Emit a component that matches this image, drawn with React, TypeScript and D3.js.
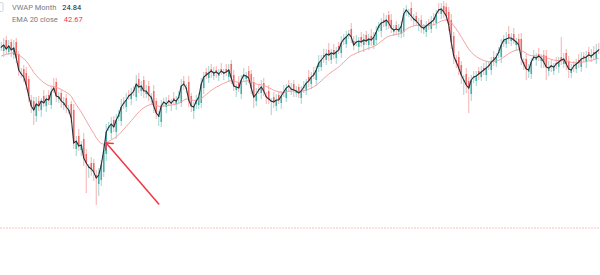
import React from "react";
import * as d3 from "d3";

// Close prices, one per candle
const closes: number[] = [
  18.3, 18.5, 18.1, 18.4, 18.0, 18.2, 17.2, 16.0, 15.6, 15.3,
  14.5, 13.4, 12.4, 12.0, 12.6, 12.4, 12.9, 12.7, 13.1, 13.0,
  13.8, 14.2, 13.4, 13.3, 12.9, 12.7, 12.3, 12.0, 11.2, 8.7,
  8.9, 8.4, 8.5, 7.2, 6.7, 6.3, 6.1, 5.8, 5.2, 5.5,
  6.5, 8.0, 9.8, 10.3, 10.6, 10.3, 11.0, 11.5, 12.3, 12.7,
  13.0, 13.4, 13.6, 13.9, 14.6, 14.3, 14.4, 13.9, 13.9, 13.5,
  13.3, 12.4, 11.7, 11.4, 12.4, 12.8, 12.6, 12.9, 12.7, 13.0,
  12.9, 13.3, 14.4, 14.6, 14.2, 13.0, 12.4, 12.3, 12.9, 13.3,
  14.6, 15.3, 15.5, 15.7, 15.9, 15.7, 15.8, 15.6, 15.9, 15.7,
  15.8, 16.0, 15.2, 14.4, 14.3, 14.2, 15.0, 15.5, 15.4, 15.2,
  14.2, 13.3, 13.6, 14.0, 14.3, 13.9, 13.3, 13.1, 12.9, 12.8,
  13.0, 13.0, 13.4, 13.8, 14.2, 14.4, 14.1, 14.0, 13.9, 13.7,
  13.9, 14.3, 14.7, 14.9, 15.3, 15.5, 16.0, 16.7, 17.0, 17.3,
  17.6, 17.5, 17.7, 17.6, 17.8, 18.0, 18.7, 19.1, 19.3, 19.6,
  19.3, 18.5, 18.8, 18.9, 18.8, 19.0, 18.9, 19.1, 19.0, 19.3,
  19.8, 20.4, 20.7, 20.8, 21.0, 20.7, 20.2, 20.0, 20.1, 20.0,
  20.4, 21.6, 22.0, 21.7, 21.4, 21.1, 20.9, 20.6, 20.3, 20.2,
  20.4, 20.6, 20.8, 21.0, 21.6, 22.0, 22.1, 21.8, 21.4, 20.5,
  18.8, 17.4, 16.8, 16.2, 15.5, 15.0, 14.5, 14.2, 15.0, 15.3,
  15.4, 15.6, 15.8, 16.0, 16.2, 16.4, 16.8, 17.0, 17.3, 17.8,
  18.5, 19.0, 19.1, 19.2, 19.2, 19.0, 18.8, 18.5, 17.2, 16.6,
  16.1, 16.0, 16.8, 17.3, 17.2, 17.4, 17.2, 16.8, 16.3, 16.2,
  16.4, 16.3, 16.6, 16.8, 17.0, 17.1, 16.6, 16.1, 16.0, 16.4,
  16.6, 16.8, 17.1, 17.2, 17.3, 17.5, 17.4, 17.6, 17.8, 18.0,
];

// Opening gap vs. the previous close, per candle
const openGap: number[] = [
  0.3, -0.4, 0.5, -0.3, 0.4, -0.5, 0.6, 0.4, -0.3, 0.5,
  0.4, 0.6, -0.4, 0.5, -0.6, 0.3, -0.4, 0.5, -0.3, 0.4,
  -0.5, 0.4, 0.6, -0.3, 0.4, -0.4, 0.5, -0.3, 0.6, 0.8,
  -0.6, 0.5, -0.4, 0.6, 0.4, -0.5, 0.4, 0.6, -0.3, -0.6,
  -0.5, -0.7, -0.4, 0.5, -0.6, 0.4, -0.5, 0.3, -0.6, 0.4,
  -0.4, 0.5, -0.3, 0.4, -0.6, 0.5, -0.4, 0.6, -0.3, 0.5,
  -0.4, 0.6, 0.5, -0.4, -0.6, 0.3, -0.5, 0.4, -0.3, 0.5,
  -0.4, 0.3, -0.6, 0.5, -0.4, 0.6, 0.4, -0.5, 0.3, -0.4,
  -0.6, -0.4, 0.5, -0.3, 0.4, -0.5, 0.3, -0.4, 0.5, -0.3,
  0.4, -0.5, 0.6, 0.3, -0.4, 0.5, -0.6, 0.3, -0.4, 0.5,
  0.4, 0.6, -0.4, 0.5, -0.3, 0.4, -0.5, 0.6, -0.3, 0.4,
  -0.4, 0.5, -0.3, 0.4, -0.6, 0.3, -0.4, 0.5, -0.3, 0.4,
  -0.5, 0.3, -0.4, 0.6, -0.3, 0.4, -0.5, 0.3, -0.4, 0.5,
  -0.3, 0.4, -0.5, 0.3, -0.4, 0.6, -0.3, 0.4, -0.5, 0.3,
  0.5, -0.4, 0.3, -0.5, 0.4, -0.3, 0.5, -0.4, 0.3, -0.5,
  -0.3, 0.4, -0.5, 0.3, -0.4, 0.5, 0.3, -0.4, 0.5, -0.3,
  -0.4, -0.6, 0.4, -0.3, 0.5, -0.4, 0.3, -0.5, 0.4, -0.3,
  -0.4, 0.3, -0.5, 0.4, -0.3, 0.5, -0.4, 0.3, 0.5, 0.4,
  0.5, 0.6, -0.4, 0.5, 0.3, -0.5, 0.6, 0.4, -0.6, 0.3,
  -0.4, 0.5, -0.3, 0.4, -0.5, 0.3, -0.4, 0.5, -0.3, 0.4,
  -0.5, 0.3, -0.4, 0.5, -0.3, 0.4, -0.5, 0.3, 0.6, -0.4,
  0.5, -0.3, -0.4, 0.5, -0.3, 0.4, -0.5, 0.3, 0.6, -0.4,
  0.3, -0.5, 0.4, -0.3, 0.5, -0.4, 0.6, 0.3, -0.4, 0.5,
  -0.3, 0.4, -0.5, 0.3, -0.4, 0.5, -0.3, 0.4, -0.5, 0.3,
];

// Upper wick length above the body, per candle
const wickHigh: number[] = [
  0.5, 0.7, 0.4, 0.6, 0.3, 0.8, 0.4, 0.3, 0.5, 0.4,
  0.6, 0.3, 0.5, 0.4, 0.7, 0.5, 0.3, 0.6, 0.4, 0.5,
  0.6, 1.0, 0.4, 0.5, 0.3, 0.6, 0.4, 0.5, 0.3, 0.6,
  0.5, 0.7, 0.4, 0.6, 0.5, 0.3, 0.6, 0.4, 0.5, 0.7,
  0.5, 0.6, 0.8, 0.5, 0.7, 0.4, 0.6, 0.5, 0.8, 0.6,
  0.7, 0.5, 0.6, 0.4, 0.9, 0.6, 0.5, 0.4, 0.6, 0.5,
  0.4, 0.6, 0.3, 0.5, 0.6, 0.4, 0.7, 0.5, 0.4, 0.6,
  0.5, 0.6, 0.7, 0.5, 0.4, 0.6, 0.3, 0.5, 0.6, 0.4,
  0.6, 0.5, 0.4, 0.7, 0.5, 0.6, 0.4, 0.5, 0.6, 0.4,
  0.5, 0.6, 0.4, 0.5, 0.3, 0.6, 0.5, 0.7, 0.4, 0.5,
  0.4, 0.5, 0.6, 0.4, 0.7, 0.5, 0.4, 0.6, 0.3, 0.5,
  0.6, 0.4, 0.5, 0.7, 0.4, 0.5, 0.6, 0.4, 0.5, 0.3,
  0.5, 0.6, 0.4, 0.7, 0.5, 0.6, 0.4, 0.8, 0.5, 0.6,
  0.5, 0.7, 0.4, 0.6, 0.5, 0.4, 0.7, 0.5, 0.6, 0.4,
  0.6, 0.5, 0.7, 0.4, 0.5, 0.6, 0.4, 0.5, 0.7, 0.5,
  0.6, 0.4, 0.5, 0.7, 0.5, 0.4, 0.6, 0.5, 0.4, 0.6,
  0.5, 0.6, 0.5, 0.4, 0.6, 0.5, 0.4, 0.6, 0.5, 0.4,
  0.5, 0.4, 0.6, 0.5, 0.4, 0.6, 0.6, 0.5, 0.4, 0.5,
  0.6, 0.4, 0.5, 0.6, 0.4, 0.5, 0.6, 0.4, 0.5, 0.6,
  0.5, 0.4, 0.6, 0.5, 0.7, 0.4, 0.5, 0.6, 0.4, 0.5,
  0.6, 0.5, 0.7, 0.8, 0.5, 0.6, 0.4, 0.5, 0.6, 0.4,
  0.5, 0.6, 0.4, 0.7, 0.5, 0.6, 0.4, 0.5, 0.6, 0.7,
  0.5, 0.4, 0.6, 0.5, 2.0, 0.6, 0.4, 0.5, 0.6, 0.4,
  0.5, 0.6, 0.7, 0.4, 0.6, 0.5, 0.7, 0.6, 0.8, 0.6,
];

// Lower wick length below the body, per candle
const wickLow: number[] = [
  0.4, 0.6, 0.5, 0.3, 0.7, 0.4, 0.5, 0.6, 0.4, 0.5,
  0.5, 0.6, 0.7, 1.5, 0.6, 0.5, 0.7, 0.4, 0.6, 0.5,
  0.4, 0.5, 0.6, 0.4, 0.7, 0.5, 0.6, 0.4, 0.5, 0.6,
  0.7, 0.5, 0.6, 0.8, 3.0, 1.0, 0.7, 0.9, 2.7, 1.2,
  0.6, 0.5, 0.7, 0.4, 0.6, 0.5, 0.7, 0.4, 0.5, 0.6,
  0.5, 0.4, 0.6, 0.5, 0.4, 0.6, 0.5, 0.7, 0.4, 0.6,
  0.5, 0.7, 0.6, 0.9, 0.5, 0.4, 0.6, 0.5, 0.7, 0.4,
  0.6, 0.5, 0.4, 0.6, 0.5, 0.7, 0.6, 0.8, 0.5, 0.4,
  0.5, 0.6, 0.4, 0.5, 0.7, 0.4, 0.6, 0.5, 0.4, 0.6,
  0.4, 0.5, 0.6, 0.5, 0.7, 0.4, 0.5, 0.4, 0.6, 0.5,
  0.6, 1.1, 0.5, 0.4, 0.6, 0.5, 0.7, 0.5, 1.3, 0.6,
  0.5, 0.4, 0.6, 0.5, 0.4, 0.6, 0.5, 0.7, 0.4, 0.5,
  0.6, 0.5, 0.4, 0.6, 0.5, 0.4, 0.6, 0.5, 0.4, 0.6,
  0.5, 0.6, 0.4, 0.5, 0.6, 0.4, 0.5, 0.6, 0.4, 0.5,
  0.6, 0.5, 0.4, 0.6, 0.5, 0.7, 0.4, 0.5, 0.6, 0.4,
  0.5, 0.4, 0.6, 0.5, 0.4, 0.6, 0.5, 0.4, 0.6, 0.5,
  0.4, 0.5, 0.6, 0.4, 0.5, 0.6, 0.4, 0.5, 0.6, 0.4,
  0.5, 0.6, 0.4, 0.5, 0.6, 0.4, 0.5, 0.6, 0.5, 0.6,
  0.7, 0.8, 0.6, 0.7, 0.9, 1.5, 0.8, 2.5, 0.7, 0.6,
  0.5, 0.6, 0.4, 0.5, 0.6, 0.4, 0.5, 0.6, 0.4, 0.5,
  0.6, 0.5, 0.4, 0.6, 0.5, 0.4, 0.6, 0.5, 0.7, 0.6,
  1.1, 0.6, 0.5, 0.4, 0.6, 0.5, 0.7, 0.6, 1.3, 0.5,
  0.6, 0.4, 0.5, 0.6, 0.5, 0.4, 0.6, 0.9, 0.5, 0.6,
  0.4, 0.6, 0.5, 0.4, 0.6, 0.5, 0.4, 0.6, 0.5, 0.4,
];

const firstClose = 18.0;
const emaPeriod = 20;
const emaSeed = 17.3;
const priceLine = 0.25;
const arrowFrom = { i: 63, p: 2.6 };
const arrowTo = { i: 42, p: 8.7 };

const legendRows = [
  { label: "VWAP Month", value: "24.84", valueColor: "#131722" },
  { label: "EMA 20 close", value: "42.67", valueColor: "#f23645" },
];

const W = 600;
const H = 275;

export default function App() {
  const n = closes.length;
  const x = d3.scaleBand<number>().domain(d3.range(n)).range([0, W]);
  const y = d3.scaleLinear().domain([0, 23]).range([230, 0]);
  const bw = x.bandwidth();
  const cx = (i: number) => (x(i) as number) + bw / 2;

  const candles = closes.map((c, i) => {
    const o = (i === 0 ? firstClose : closes[i - 1]) + openGap[i];
    const top = Math.max(o, c);
    const bot = Math.min(o, c);
    return { i, o, c, h: top + wickHigh[i], l: bot - wickLow[i], up: c >= o };
  });

  const a = 2 / (emaPeriod + 1);
  const ema: number[] = [];
  let e = emaSeed;
  closes.forEach((c) => {
    e = e + a * (c - e);
    ema.push(e);
  });

  const line = d3
    .line<number>()
    .x((_, i) => cx(i))
    .y((d) => y(d));

  const green = "#26a69a";
  const red = "#ef5350";

  // arrow
  const x1 = cx(arrowFrom.i), y1 = y(arrowFrom.p);
  const x2 = cx(arrowTo.i), y2 = y(arrowTo.p);
  const ang = Math.atan2(y1 - y2, x1 - x2);
  const hl = 7;
  const h1 = [x2 + hl * Math.cos(ang - Math.PI / 4), y2 + hl * Math.sin(ang - Math.PI / 4)];
  const h2 = [x2 + hl * Math.cos(ang + Math.PI / 4), y2 + hl * Math.sin(ang + Math.PI / 4)];

  return (
    <svg
      width={W}
      height={H}
      style={{ position: "fixed", left: 0, top: 0, background: "#fff" }}
      fontFamily="Roboto, 'Liberation Sans', sans-serif"
    >
      <rect width={W} height={H} fill="#fff" />
      <line
        x1={0}
        x2={W}
        y1={y(priceLine) + 0.5}
        y2={y(priceLine) + 0.5}
        stroke="#f7b4b4"
        strokeWidth={1}
        strokeDasharray="2 1"
        opacity={0.8}
      />
      <g>
        {candles.map((d) => (
          <line
            key={"w" + d.i}
            x1={cx(d.i)}
            x2={cx(d.i)}
            y1={y(d.h)}
            y2={y(d.l)}
            stroke={d.up ? green : red}
            strokeWidth={1}
            opacity={0.45}
          />
        ))}
        {candles.map((d) => {
          const yt = y(Math.max(d.o, d.c));
          const yb = y(Math.min(d.o, d.c));
          return (
            <rect
              key={"b" + d.i}
              x={cx(d.i) - 0.8}
              y={yt}
              width={1.6}
              height={Math.max(1, yb - yt)}
              fill={d.up ? green : red}
              opacity={0.8}
            />
          );
        })}
      </g>
      <path d={line(ema) || ""} fill="none" stroke="#f7a1a1" strokeWidth={1} />
      <path d={line(closes) || ""} fill="none" stroke="#2a2e39" strokeWidth={1.1} />
      <g stroke="#f23645" strokeWidth={1.5} fill="none" strokeLinecap="round">
        <line x1={x1} y1={y1} x2={x2} y2={y2} />
        <line x1={x2} y1={y2} x2={h1[0]} y2={h1[1]} />
        <line x1={x2} y1={y2} x2={h2[0]} y2={h2[1]} />
      </g>
      <rect x={-5} y={2.5} width={8} height={9} rx={1.5} fill="#fff" stroke="#d1d4dc" />
      {legendRows.map((r, k) => (
        <text key={r.label} x={12} y={10 + k * 12} fontSize={7.5}>
          <tspan fill="#787b86">{r.label}</tspan>
          <tspan dx={6} fill={r.valueColor}>{r.value}</tspan>
        </text>
      ))}
    </svg>
  );
}
